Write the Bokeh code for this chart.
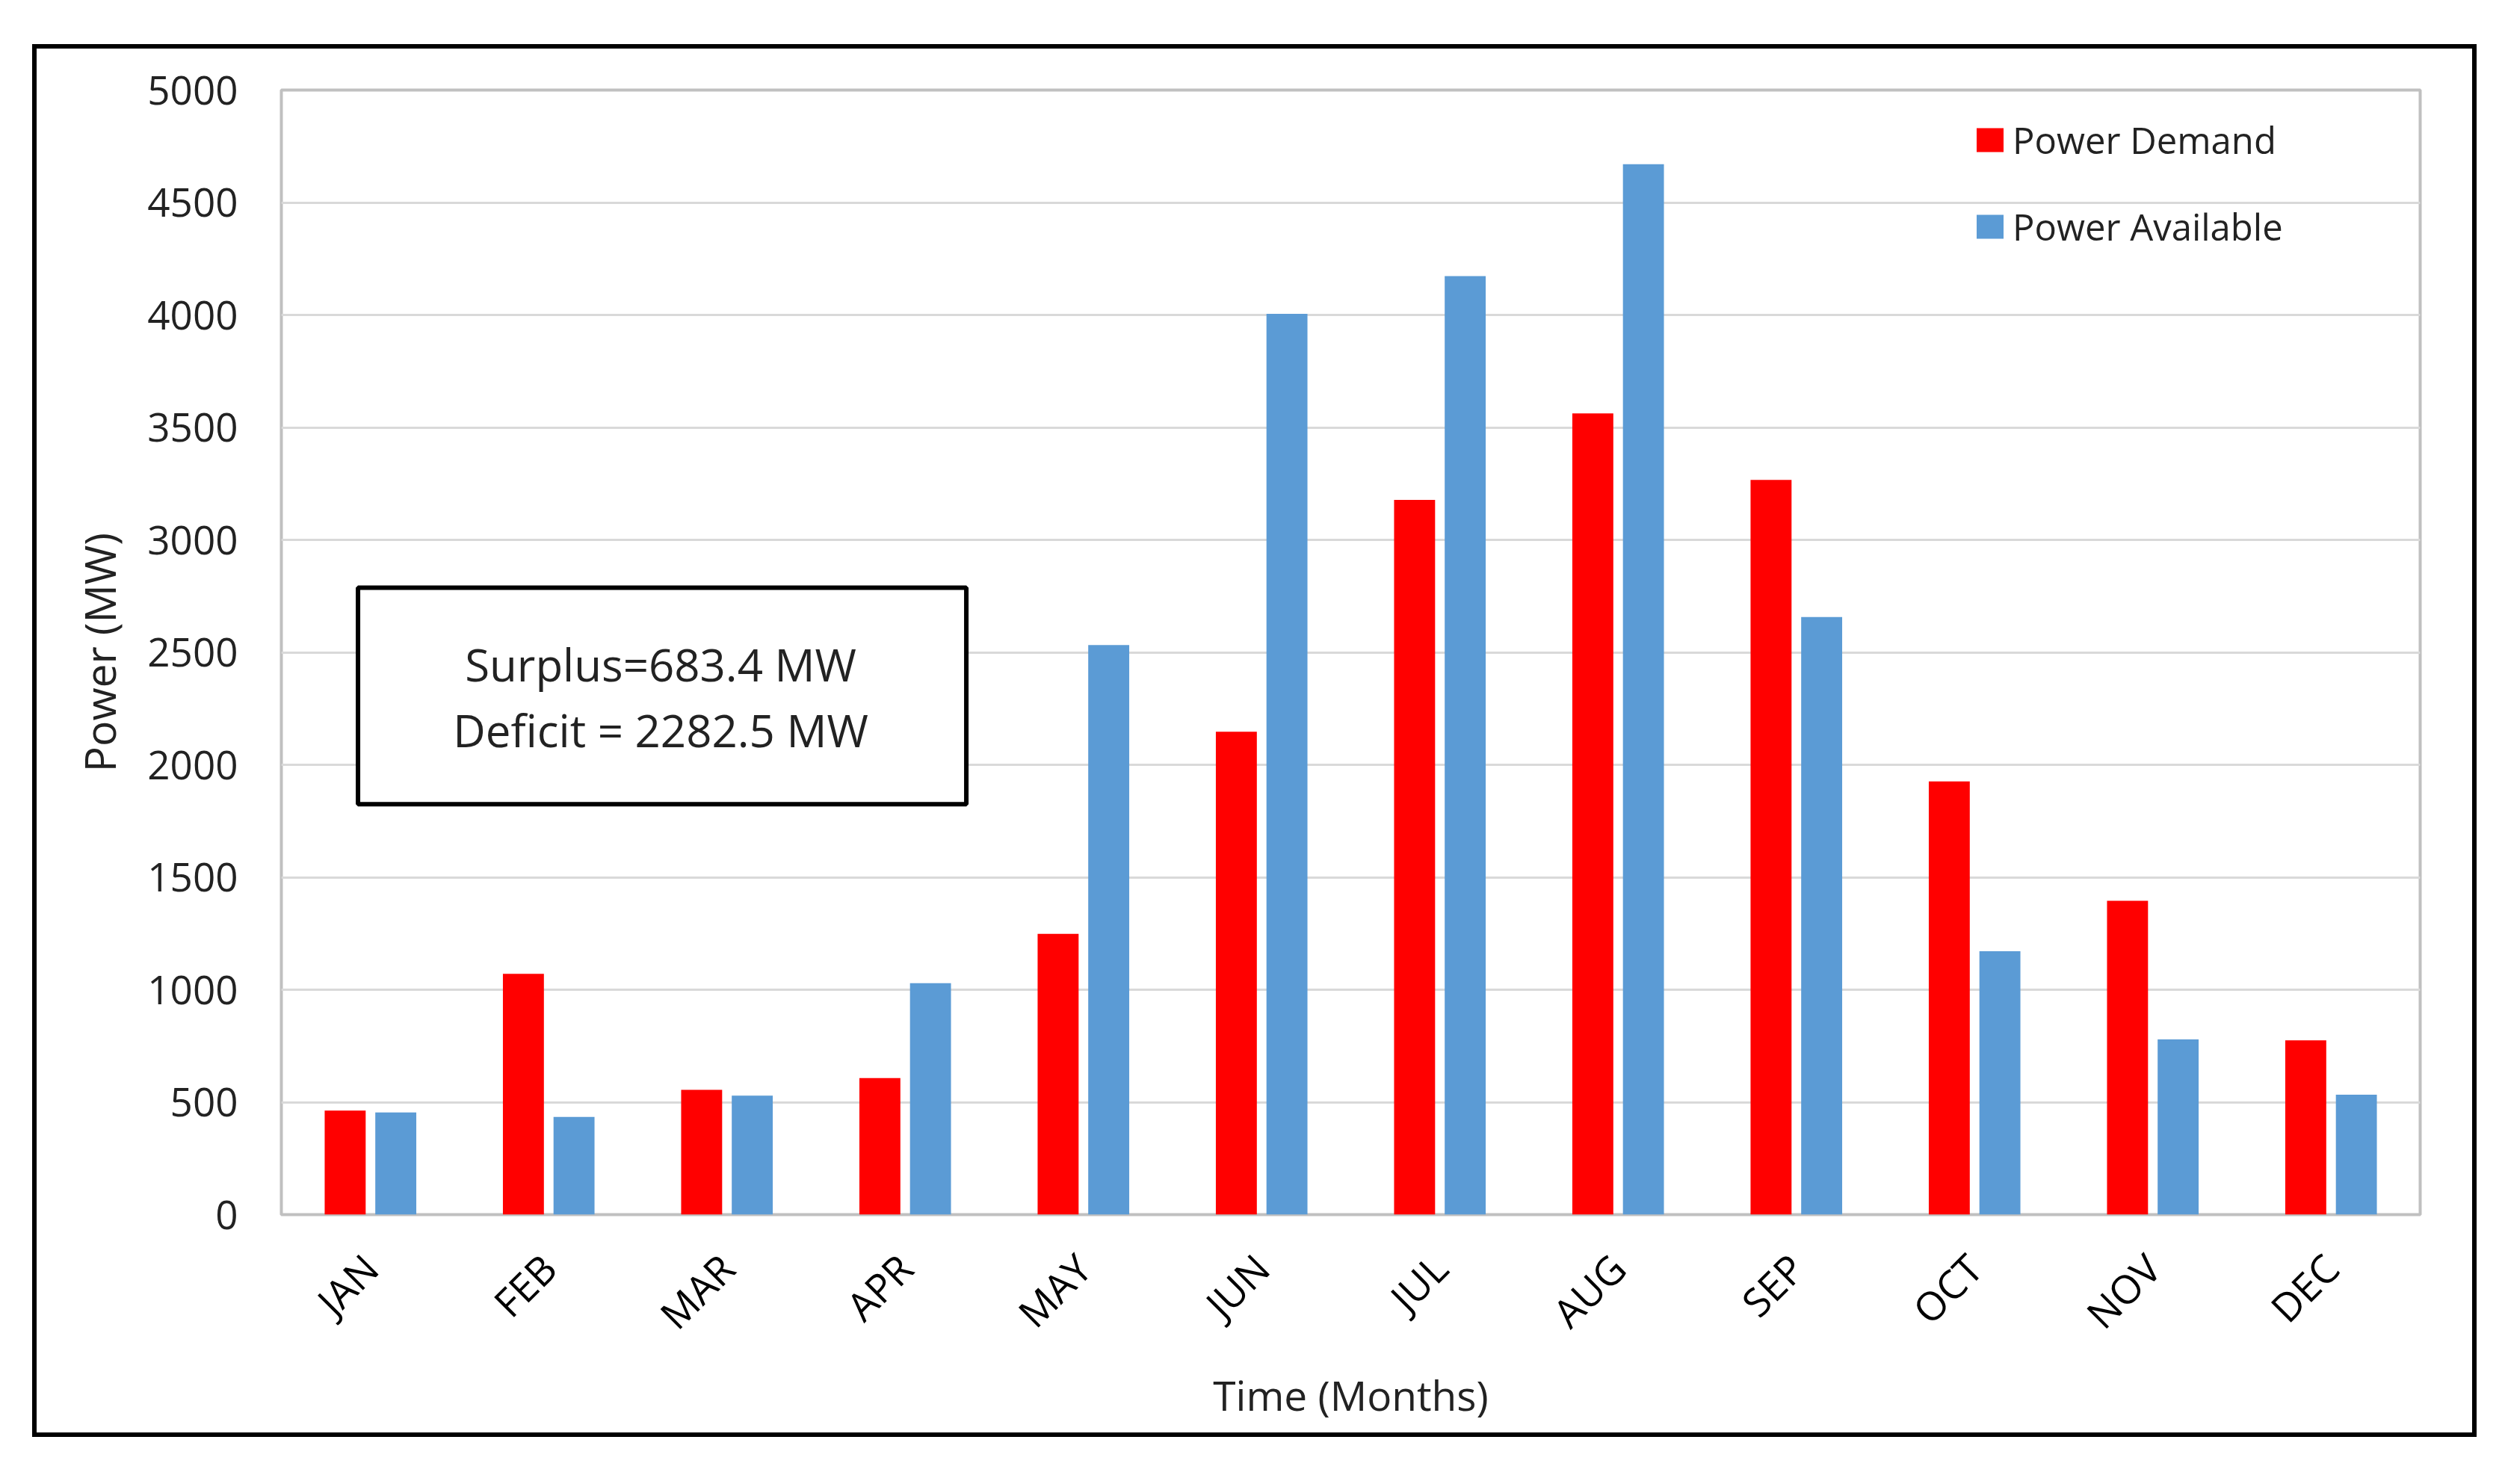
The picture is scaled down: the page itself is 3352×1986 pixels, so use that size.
import math
from bokeh.plotting import figure
from bokeh.models import (Range1d, FactorRange, FixedTicker, Legend, LegendItem,
                          BoxAnnotation, Label, ColumnDataSource, InlineStyleSheet)
from bokeh.transform import dodge
from bokeh.embed import file_html
from bokeh.resources import INLINE

# ---- data ----
months = ["JAN", "FEB", "MAR", "APR", "MAY", "JUN", "JUL", "AUG", "SEP", "OCT", "NOV", "DEC"]
demand = [463, 1071, 555, 607, 1248, 2147, 3178, 3562, 3267, 1926, 1395, 775]
available = [454, 434, 529, 1029, 2532, 4005, 4173, 4670, 2657, 1171, 779, 533]
series_names = ["Power Demand", "Power Available"]
y_ticks = [0, 500, 1000, 1500, 2000, 2500, 3000, 3500, 4000, 4500, 5000]
note_lines = ["Surplus=683.4 MW", "Deficit = 2282.5 MW"]
x_title = "Time (Months)"
y_title = "Power (MW)"

RED = "#FF0000"
BLUE = "#5B9BD5"
FONT = "Open Sans"
TXT = "#222222"

source = ColumnDataSource(dict(month=months, demand=demand, available=available))

p = figure(width=3336, height=1960,
           x_range=FactorRange(*months, range_padding=0, factor_padding=0),
           y_range=Range1d(0, 5000),
           output_backend="svg", toolbar_location=None,
           min_border_left=376, min_border_right=98,
           min_border_top=120, min_border_bottom=335)

p.background_fill_color = "white"
p.border_fill_color = "white"
p.outline_line_color = "#C0C0C0"
p.outline_line_width = 4

r1 = p.vbar(x=dodge("month", -0.142, range=p.x_range), top="demand", width=0.23,
            source=source, fill_color=RED, line_color=None)
r2 = p.vbar(x=dodge("month", 0.142, range=p.x_range), top="available", width=0.23,
            source=source, fill_color=BLUE, line_color=None)

# grid
p.xgrid.grid_line_color = None
p.ygrid.grid_line_color = "#D9D9D9"
p.ygrid.grid_line_width = 3

# y axis
p.yaxis.ticker = FixedTicker(ticks=y_ticks)
p.yaxis.axis_line_color = None
p.yaxis.major_tick_line_color = None
p.yaxis.minor_tick_line_color = None
p.yaxis.major_tick_out = 0
p.yaxis.major_tick_in = 0
p.yaxis.major_label_standoff = 58
p.yaxis.major_label_text_font = FONT
p.yaxis.major_label_text_font_size = "53px"
p.yaxis.major_label_text_color = TXT
p.yaxis.axis_label = y_title
p.yaxis.axis_label_text_font = FONT
p.yaxis.axis_label_text_font_style = "normal"
p.yaxis.axis_label_text_font_size = "57px"
p.yaxis.axis_label_text_color = TXT
p.yaxis.axis_label_standoff = 22

# x axis
p.xaxis.axis_line_color = None
p.xaxis.major_tick_line_color = None
p.xaxis.minor_tick_line_color = None
p.xaxis.major_tick_out = 0
p.xaxis.major_tick_in = 0
p.xaxis.major_label_orientation = math.pi / 4
p.xaxis.major_label_standoff = 62
p.xaxis.major_label_text_font = FONT
p.xaxis.major_label_text_font_size = "53px"
p.xaxis.major_label_text_color = "#000000"
p.xaxis.axis_label = x_title
p.xaxis.axis_label_text_font = FONT
p.xaxis.axis_label_text_font_style = "normal"
p.xaxis.axis_label_text_font_size = "55px"
p.xaxis.axis_label_text_color = TXT
p.xaxis.axis_label_standoff = 6

# legend
legend = Legend(items=[LegendItem(label=series_names[0], renderers=[r1]),
                       LegendItem(label=series_names[1], renderers=[r2])],
                location=(2264, 1289), orientation="vertical",
                glyph_width=45, glyph_height=40, label_standoff=8,
                label_height=60, spacing=50, padding=0, margin=0,
                label_text_font=FONT, label_text_font_size="49px",
                label_text_color=TXT,
                border_line_color=None, background_fill_alpha=0)
p.add_layout(legend)

# note box
note_box = BoxAnnotation(left=0.43, right=3.843, top=2787, bottom=1825,
                         fill_color="white", fill_alpha=1.0,
                         line_color="black", line_alpha=1.0, line_width=6)
p.add_layout(note_box)
for txt, yy in zip(note_lines, [2448, 2156]):
    p.add_layout(Label(x=2.128, y=yy, text=txt, text_align="center",
                       text_baseline="middle", text_font=FONT,
                       text_font_size="60px", text_color=TXT))

# outer black frame around the whole chart (drawn with CSS on the figure host)
p.stylesheets = [InlineStyleSheet(css="""
:host { position: relative; }
:host::after {
  content: "";
  position: absolute;
  left: 43px; top: 59px;
  width: 3271px; height: 1864px;
  border: 6px solid #000000;
  box-sizing: border-box;
  pointer-events: none;
  z-index: 10;
}
""")]

open("out.html", "w").write(file_html(p, INLINE))
